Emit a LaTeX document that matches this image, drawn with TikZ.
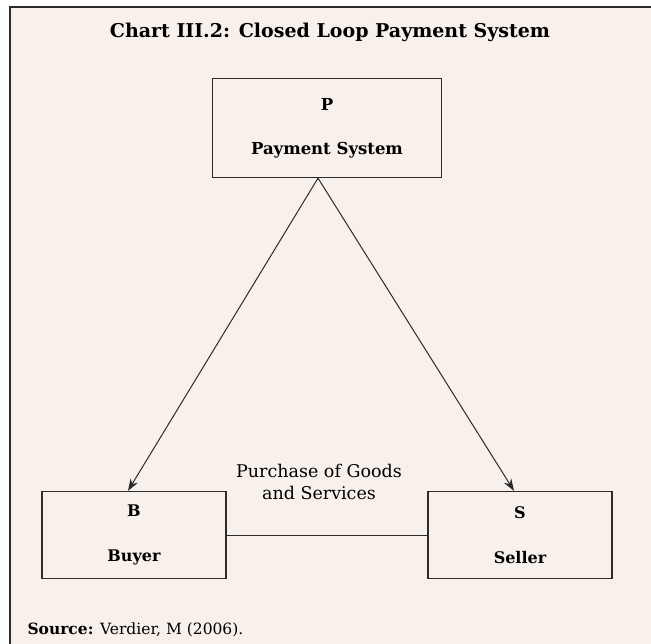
\documentclass[tikz,border=0pt]{standalone}
\usepackage{fontspec}
\setmainfont{DejaVu Serif}
\usetikzlibrary{arrows.meta}
\usetikzlibrary{calc}
\definecolor{chartbg}{HTML}{F7F0EB}
\definecolor{ink}{HTML}{2B2B2B}

\begin{document}
\begin{tikzpicture}[x=1pt,y=-1pt,
    party/.style={draw=ink,line width=1.3pt,align=center,
        minimum width=184pt,minimum height=87pt,inner sep=0pt,
        font=\fontsize{16}{45}\selectfont\bfseries},
    flow/.style={ink,line width=1pt,-{Stealth[length=12pt,width=8.5pt]}}]
    \useasboundingbox (0,0) rectangle (651,644);
    % panel, ruled on top and left only
    \fill[chartbg] (10,7) rectangle (651,644);
    \draw[ink,line width=2pt] (10,644) -- (10,7) -- (651,7);

    \node[font=\fontsize{19}{22}\selectfont\bfseries] (title) at (330,32)
        {Chart III.2: Closed Loop Payment System};

    \node[party,minimum width=229pt,minimum height=99pt,
        font=\fontsize{16.5}{44}\selectfont\bfseries] (pay) at (327,128) {P\\Payment System};
    \node[party] (buyer) at (134,535) {B\\Buyer};
    \node[party] (seller) at (520,535) {S\\Seller};

    \draw[flow] ($(pay.south)+(-9,0)$) -- ($(buyer.north)+(-6,0)$);
    \draw[flow] ($(pay.south)+(-9,0)$) -- ($(seller.north)+(-6,0)$);
    \draw[ink,line width=1pt] (buyer) -- (seller);
    \node[align=center,font=\fontsize{17.5}{22}\selectfont] (deal) at (319,482)
        {Purchase of Goods\\and Services};

    \node[anchor=west,font=\fontsize{15.5}{18}\selectfont] (src) at (24,630)
        {\textbf{Source:} Verdier, M (2006).};
\end{tikzpicture}
\end{document}
